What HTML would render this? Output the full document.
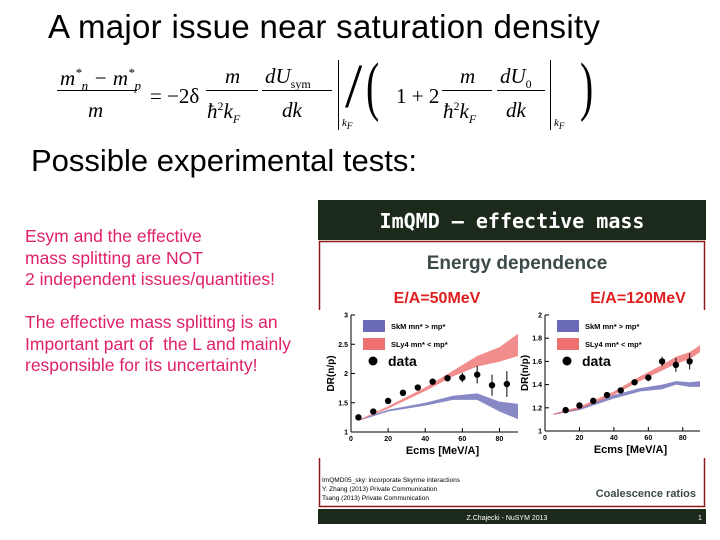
<!DOCTYPE html>
<html><head><meta charset="utf-8">
<style>
body{margin:0;width:720px;height:540px;background:#fff;overflow:hidden;position:relative;font-family:"Liberation Sans",sans-serif}
.a{position:absolute;white-space:nowrap}
.f{font-family:"Liberation Serif",serif;font-size:21px;position:absolute;white-space:nowrap;line-height:1}
.i{font-style:italic}
.bar{position:absolute;height:1.3px;background:#000}
</style></head><body>
<div class="a" style="left:48px;top:8px;font-size:33px;color:#000;letter-spacing:0.3px">A major issue near saturation density</div>

<div>
<div class="f i" style="left:60px;top:66px">m<sup style="font-size:13px">*</sup><sub style="font-size:13px">n</sub> − m<sup style="font-size:13px">*</sup><sub style="font-size:13px">p</sub></div>
<div class="bar" style="left:57px;top:90px;width:80px"></div>
<div class="f i" style="left:88px;top:100px">m</div>
<div class="f" style="left:150px;top:86px">= −2δ</div>
<div class="f i" style="left:225px;top:66px">m</div>
<div class="bar" style="left:206px;top:90px;width:52px"></div>
<div class="f i" style="left:207px;top:100px">ħ<sup style="font-size:12px;font-style:normal">2</sup>k<sub style="font-size:12px">F</sub></div>
<div class="f i" style="left:265px;top:66px">dU<sub style="font-size:12px;font-style:normal">sym</sub></div>
<div class="bar" style="left:262px;top:90px;width:70px"></div>
<div class="f i" style="left:282px;top:100px">dk</div>
<div class="a" style="left:338px;top:60px;width:1px;height:70px;background:#000"></div>
<div class="f i" style="left:342px;top:118px;font-size:11px">k<sub>F</sub></div>
<div class="f" style="left:345px;top:56px;font-size:62px;font-weight:100">/</div>
<div class="f" style="left:366px;top:54px;font-size:66px;transform:scaleX(.6);transform-origin:left">(</div>
<div class="f" style="left:396px;top:86px">1 + 2</div>
<div class="f i" style="left:460px;top:66px">m</div>
<div class="bar" style="left:442px;top:90px;width:50px"></div>
<div class="f i" style="left:443px;top:100px">ħ<sup style="font-size:12px;font-style:normal">2</sup>k<sub style="font-size:12px">F</sub></div>
<div class="f i" style="left:500px;top:66px">dU<sub style="font-size:12px;font-style:normal">0</sub></div>
<div class="bar" style="left:497px;top:90px;width:48px"></div>
<div class="f i" style="left:506px;top:100px">dk</div>
<div class="a" style="left:550px;top:60px;width:1px;height:70px;background:#000"></div>
<div class="f i" style="left:554px;top:118px;font-size:11px">k<sub>F</sub></div>
<div class="f" style="left:580px;top:54px;font-size:66px;transform:scaleX(.6);transform-origin:left">)</div>
</div>

<div class="a" style="left:31px;top:143px;font-size:31px">Possible experimental tests:</div>
<div class="a" style="left:25px;top:226px;font-size:17.5px;color:#e0206a;line-height:21.5px">Esym and the effective<br>mass splitting are NOT<br>2 independent issues/quantities!</div>
<div class="a" style="left:25px;top:312px;font-size:17.5px;color:#e0206a;line-height:21.5px">The effective mass splitting is an<br>Important part of &nbsp;the L and mainly<br>responsible for its uncertainty!</div>

<svg class="a" style="left:318px;top:200px" width="390" height="326" viewBox="318 200 390 326">
<rect x="318" y="200" width="390" height="326" fill="#fff"/>
<rect x="318" y="200" width="388" height="40" fill="#1c2a1c"/>
<text x="512" y="228" text-anchor="middle" fill="#fff" font-family="DejaVu Sans Mono,monospace" font-size="20" font-weight="bold">ImQMD – effective mass</text>
<rect x="319.5" y="241.5" width="385" height="265" fill="none" stroke="#8b1a1a" stroke-width="1.5"/>
<text x="517" y="269" text-anchor="middle" fill="#3d4a4a" font-size="19" font-weight="bold">Energy dependence</text>
<text x="437" y="303" text-anchor="middle" fill="#e02020" font-size="16" font-weight="bold">E/A=50MeV</text>
<text x="638" y="303" text-anchor="middle" fill="#e02020" font-size="16" font-weight="bold">E/A=120MeV</text>
<rect x="318" y="310" width="201" height="148" fill="#fff"/>
<rect x="528" y="310" width="178" height="148" fill="#fff"/>
<g id="p1"></g><g id="p2"></g>
<text x="322" y="482" font-size="6.5" fill="#000">ImQMD05_sky: incorporate Skyrme interactions</text>
<text x="322" y="491" font-size="6.5" fill="#000">Y. Zhang (2013) Private Communication</text>
<text x="322" y="500" font-size="6.5" fill="#000">Tsang (2013) Private Communication</text>
<text x="696" y="497" text-anchor="end" fill="#3d4a4a" font-size="11" font-weight="bold">Coalescence ratios</text>
<rect x="318" y="509" width="388" height="15" fill="#1c2a1c"/>
<text x="507" y="520" text-anchor="middle" fill="#fff" font-size="7">Z.Chajecki - NuSYM 2013</text>
<text x="698" y="520" fill="#fff" font-size="7">1</text>
</svg>

<script>
const xL=[4,12,20,28,36,44,52,60,68,76,84];
const yL=[1.25,1.35,1.53,1.67,1.76,1.86,1.92,1.93,1.98,1.80,1.82];
const eL=[0.03,0.03,0.03,0.03,0.03,0.04,0.05,0.08,0.15,0.18,0.22];
const bandX=[5,20,40,55,68,80,90];
const blueLoL=[1.20,1.35,1.45,1.55,1.55,1.35,1.22];
const blueHiL=[1.22,1.38,1.50,1.62,1.66,1.52,1.48];
const redLoL=[1.20,1.40,1.70,1.95,2.12,2.20,2.30];
const redHiL=[1.22,1.44,1.76,2.05,2.30,2.45,2.68];
const xR=[12,20,28,36,44,52,60,68,76,84];
const yR=[1.18,1.22,1.26,1.31,1.35,1.42,1.46,1.60,1.57,1.60];
const eR=[0.02,0.02,0.02,0.02,0.02,0.02,0.03,0.04,0.06,0.07];
const bandXR=[5,20,40,55,68,76,84,90];
const blueLoR=[1.14,1.18,1.28,1.34,1.36,1.40,1.38,1.38];
const blueHiR=[1.15,1.20,1.31,1.37,1.40,1.43,1.42,1.43];
const redLoR=[1.14,1.19,1.31,1.43,1.52,1.58,1.62,1.68];
const redHiR=[1.15,1.21,1.34,1.47,1.57,1.64,1.68,1.74];
const ticksXL=[0,20,40,60,80];
const ticksYL=[1,1.5,2,2.5,3];
const ticksYR=[1,1.2,1.4,1.6,1.8,2];
const NS="http://www.w3.org/2000/svg";
function mk(p,t,a){const e=document.createElementNS(NS,t);for(const k in a)e.setAttribute(k,a[k]);p.appendChild(e);return e;}
function plot(g,cfg){
 const sx=v=>cfg.x0+(v-0)/(90-0)*(cfg.x1-cfg.x0);
 const sy=v=>cfg.y0+(v-cfg.ymin)/(cfg.ymax-cfg.ymin)*(cfg.y1-cfg.y0);
 const band=(lo,hi,bx,col,name)=>{let d="M"+bx.map((x,i)=>sx(x)+","+sy(hi[i])).join("L");d+="L"+bx.map((x,i)=>sx(x)+","+sy(lo[i])).reverse().join("L")+"Z";
  const p=mk(g,"path",{d:d,fill:col,opacity:0.8});
  
  };
 band(cfg.blo,cfg.bhi,cfg.bx,"#6a6ab8",cfg.n+"-skm-band");
 band(cfg.rlo,cfg.rhi,cfg.bx,"#ee7070",cfg.n+"-sly4-band");
 mk(g,"line",{x1:cfg.x0,y1:cfg.y0,x2:cfg.x1,y2:cfg.y0,stroke:"#000","stroke-width":1});
 mk(g,"line",{x1:cfg.x0,y1:cfg.y0,x2:cfg.x0,y2:cfg.y1,stroke:"#000","stroke-width":1});
 ticksXL.forEach(t=>{mk(g,"line",{x1:sx(t),x2:sx(t),y1:cfg.y0,y2:cfg.y0-4,stroke:"#000"});const tx=mk(g,"text",{x:sx(t),y:cfg.y0+9,"font-size":7,"text-anchor":"middle","font-weight":"bold"});tx.textContent=t;});
 cfg.ty.forEach(t=>{mk(g,"line",{x1:cfg.x0,x2:cfg.x0+4,y1:sy(t),y2:sy(t),stroke:"#000"});const tx=mk(g,"text",{x:cfg.x0-3,y:sy(t)+2.5,"font-size":7,"text-anchor":"end","font-weight":"bold"});tx.textContent=t;});
 cfg.x.forEach((x,i)=>{mk(g,"line",{x1:sx(x),x2:sx(x),y1:sy(cfg.y[i]-cfg.e[i]),y2:sy(cfg.y[i]+cfg.e[i]),stroke:"#000"});
  const c=mk(g,"circle",{cx:sx(x),cy:sy(cfg.y[i]),r:3.2,fill:"#000"});
  
  });
 const xt=mk(g,"text",{x:(cfg.x0+cfg.x1)/2+8,y:cfg.y0+22,"font-size":11,"font-weight":"bold","text-anchor":"middle"});xt.textContent="Ecms [MeV/A]";
 const yt=mk(g,"text",{x:0,y:0,"font-size":10,"font-weight":"bold","text-anchor":"middle",transform:`translate(${cfg.x0-17},${(cfg.y0+cfg.y1)/2}) rotate(-90)`});yt.textContent="DR(n/p)";
 const L=cfg.x0+12;
 mk(g,"rect",{x:L,y:cfg.y1+5,width:22,height:12,fill:"#6a6ab8"});
 mk(g,"rect",{x:L,y:cfg.y1+23,width:22,height:12,fill:"#ee7070"});
 const t1=mk(g,"text",{x:L+28,y:cfg.y1+14,"font-size":7.5,"font-weight":"bold"});t1.textContent="SkM mn* > mp*";
 const t2=mk(g,"text",{x:L+28,y:cfg.y1+32,"font-size":7.5,"font-weight":"bold"});t2.textContent="SLy4 mn* < mp*";
 mk(g,"circle",{cx:L+10,cy:cfg.y1+46,r:4.5,fill:"#000"});
 const t3=mk(g,"text",{x:L+25,y:cfg.y1+51,"font-size":14,"font-weight":"bold"});t3.textContent="data";
}
plot(document.getElementById("p1"),{n:"left",x0:351,x1:518,y0:432,y1:315,ymin:1,ymax:3,ty:ticksYL,x:xL,y:yL,e:eL,bx:bandX,blo:blueLoL,bhi:blueHiL,rlo:redLoL,rhi:redHiL});
plot(document.getElementById("p2"),{n:"right",x0:545,x1:700,y0:431,y1:315,ymin:1,ymax:2,ty:ticksYR,x:xR,y:yR,e:eR,bx:bandXR,blo:blueLoR,bhi:blueHiR,rlo:redLoR,rhi:redHiR});
</script>
</body></html>
